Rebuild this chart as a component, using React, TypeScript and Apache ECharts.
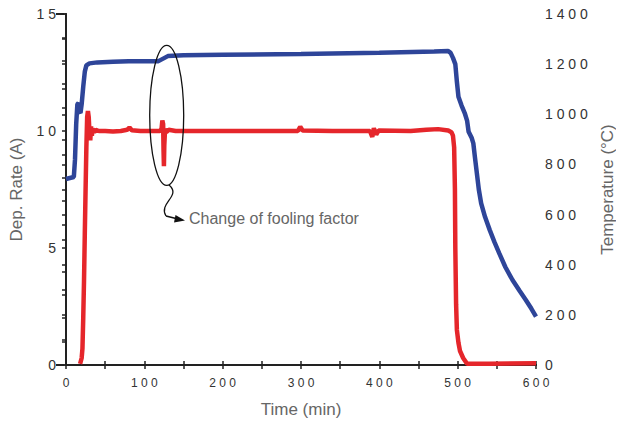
import React, { useEffect, useRef } from "react";
import * as echarts from "echarts";

// Time axis (min)
const xTicks = [0, 100, 200, 300, 400, 500, 600];
const xTickLabels = ["0", "1 0 0", "2 0 0", "3 0 0", "4 0 0", "5 0 0", "6 0 0"];
// Left axis: Dep. Rate (A)
const leftTicks = [0, 5, 10, 15];
const leftTickLabels = ["0", "5", "1 0", "1 5"];
// Right axis: Temperature (°C)
const rightTicks = [0, 200, 400, 600, 800, 1000, 1200, 1400];
const rightTickLabels = ["0", "2 0 0", "4 0 0", "6 0 0", "8 0 0", "1 0 0 0", "1 2 0 0", "1 4 0 0"];

// Deposition rate series (time, value)
const rateTime = [18, 20, 21, 22, 23, 24, 25, 26, 27, 28, 29, 30, 31, 32, 33, 34, 36, 38, 42, 50, 60, 70, 78, 81, 84, 95, 110, 120, 122, 123, 124, 124.5, 125, 125.5, 126.5, 128, 131, 140, 200, 250, 296, 299, 302, 340, 388, 391, 393, 396, 399, 440, 460, 475, 488, 492, 494, 495.5, 496.5, 497, 498, 499, 501, 503, 507, 512, 540, 600];
const rateValue = [0.05, 0.3, 0.7, 2.0, 3.6, 5.6, 7.5, 9.3, 10.6, 10.85, 10.6, 9.9, 9.6, 10.2, 9.8, 10.1, 9.95, 10.05, 10.0, 10.0, 9.98, 10.0, 10.05, 10.15, 10.03, 10.0, 10.0, 10.0, 10.1, 10.45, 10.3, 9.2, 8.5, 9.4, 10.1, 9.95, 10.05, 10.0, 10.0, 10.0, 10.0, 10.18, 10.02, 10.0, 10.0, 9.75, 10.12, 9.85, 10.02, 10.0, 10.05, 10.08, 10.02, 9.95, 9.8, 9.3, 7.5, 5.0, 2.6, 1.5, 0.95, 0.6, 0.3, 0.05, 0.05, 0.08];

// Temperature series (time, °C)
const tempTime = [0, 10, 11.5, 13, 14.5, 16, 17, 18.5, 20, 22, 24, 26, 30, 40, 60, 80, 100, 118, 124, 130, 150, 200, 300, 400, 470, 488, 491, 494, 497, 499, 501, 505, 509, 512, 514, 518, 520, 522, 524, 527, 530, 535, 541, 547, 553, 561, 570, 579, 587, 594, 600];
const tempValue = [742, 750, 820, 960, 1040, 1045, 1010, 1005, 1040, 1110, 1170, 1195, 1203, 1207, 1210, 1212, 1212, 1212, 1222, 1232, 1235, 1237, 1240, 1245, 1250, 1252, 1245, 1225, 1200, 1130, 1070, 1035, 1005, 975, 930, 905, 884, 830, 778, 700, 645, 590, 538, 490, 446, 390, 339, 296, 259, 225, 193];

const annotationText = "Change of fooling factor";

const FONT = "Liberation Sans, Arial, sans-serif";
const RED = "#e5262b";
const BLUE = "#2e4599";

function pick(ticks: number[], labels: string[], v: number) {
  const i = ticks.indexOf(v);
  return i >= 0 ? labels[i] : "";
}

export default function App() {
  const ref = useRef<HTMLDivElement>(null);
  useEffect(() => {
    if (!ref.current) return;
    const chart = echarts.init(ref.current, null, { renderer: "svg" });
    const axisLine = { show: true, lineStyle: { color: "#222", width: 2 } };
    const tickStyle = { color: "#222", width: 1.5 };
    chart.setOption({
      animation: false,
      backgroundColor: "#fff",
      grid: { left: 64, right: 81, top: 14, bottom: 61 },
      xAxis: [
        {
          type: "value",
          min: 0,
          max: 600,
          interval: 100,
          position: "bottom",
          name: "Time (min)",
          nameLocation: "middle",
          nameGap: 36,
          nameTextStyle: { color: "#666", fontSize: 17, fontFamily: FONT },
          axisLine,
          axisTick: { inside: true, length: 4, lineStyle: tickStyle },
          minorTick: { show: true, splitNumber: 2, length: 4, lineStyle: tickStyle },
          axisLabel: {
            color: "#333",
            fontSize: 12,
            fontFamily: FONT,
            margin: 12,
            formatter: (v: number) => pick(xTicks, xTickLabels, v),
          },
          splitLine: { show: false },
        },
        {
          type: "value",
          min: 0,
          max: 600,
          interval: 100,
          position: "top",
          axisLine,
          axisTick: { inside: true, length: 4, lineStyle: tickStyle },
          minorTick: { show: true, splitNumber: 2, length: 4, lineStyle: tickStyle },
          axisLabel: { show: false },
          splitLine: { show: false },
        },
      ],
      yAxis: [
        {
          type: "value",
          min: 0,
          max: 15,
          interval: 5,
          position: "left",
          name: "Dep. Rate (A)",
          nameLocation: "middle",
          nameRotate: 90,
          nameGap: 41,
          nameTextStyle: { color: "#666", fontSize: 17, fontFamily: FONT },
          axisLine,
          axisTick: { inside: false, length: 4, lineStyle: tickStyle },
          minorTick: { show: true, splitNumber: 5, length: 4, lineStyle: tickStyle },
          axisLabel: {
            color: "#333",
            fontSize: 14,
            fontFamily: FONT,
            margin: 10,
            formatter: (v: number) => pick(leftTicks, leftTickLabels, v),
          },
          splitLine: { show: false },
        },
        {
          type: "value",
          min: 0,
          max: 1400,
          interval: 200,
          position: "right",
          name: "Temperature (°C)",
          nameLocation: "middle",
          nameRotate: 90,
          nameGap: 63,
          nameTextStyle: { color: "#666", fontSize: 17, fontFamily: FONT },
          axisLine,
          axisTick: { inside: true, length: 4, lineStyle: tickStyle },
          minorTick: { show: true, splitNumber: 2, length: 4, lineStyle: tickStyle },
          axisLabel: {
            color: "#333",
            fontSize: 14,
            fontFamily: FONT,
            margin: 9,
            formatter: (v: number) => pick(rightTicks, rightTickLabels, v),
          },
          splitLine: { show: false },
        },
      ],
      series: [
        {
          name: "Temperature",
          type: "line",
          xAxisIndex: 0,
          yAxisIndex: 1,
          data: tempTime.map((t, i) => [t, tempValue[i]]),
          showSymbol: false,
          symbol: "none",
          lineStyle: { color: BLUE, width: 4.5 },
          z: 3,
        },
        {
          name: "Dep. Rate",
          type: "line",
          xAxisIndex: 0,
          yAxisIndex: 0,
          data: rateTime.map((t, i) => [t, rateValue[i]]),
          showSymbol: false,
          symbol: "none",
          lineStyle: { color: RED, width: 4.5 },
          z: 4,
        },
      ],
      graphic: [
        {
          type: "ellipse",
          shape: { cx: 166.7, cy: 115.3, rx: 17, ry: 70 },
          style: { fill: "none", stroke: "#111", lineWidth: 1.3 },
          z: 10,
        },
        {
          type: "bezierCurve",
          shape: { x1: 169, y1: 185, cpx1: 182, cpy1: 196, cpx2: 158, cpy2: 203, x2: 166, y2: 216 },
          style: { fill: "none", stroke: "#111", lineWidth: 1.3 },
          z: 10,
        },
        {
          type: "line",
          shape: { x1: 166, y1: 216, x2: 178, y2: 219 },
          style: { stroke: "#111", lineWidth: 1.3 },
          z: 10,
        },
        {
          type: "polygon",
          shape: { points: [[185, 220.5], [175.5, 215], [174, 222.5]] },
          style: { fill: "#111" },
          z: 10,
        },
        {
          type: "text",
          x: 189,
          y: 218,
          style: {
            text: annotationText,
            fill: "#666",
            fontSize: 16,
            fontFamily: FONT,
            verticalAlign: "middle",
          },
          z: 10,
        },
        {
          type: "line",
          shape: { x1: 56, y1: 365, x2: 64, y2: 365 },
          style: { stroke: "#222", lineWidth: 2 },
        },
        {
          type: "line",
          shape: { x1: 56, y1: 14, x2: 64, y2: 14 },
          style: { stroke: "#222", lineWidth: 2 },
        },
      ],
    });
    return () => chart.dispose();
  }, []);
  return <div ref={ref} style={{ width: 624, height: 426, margin: -8 }} />;
}
